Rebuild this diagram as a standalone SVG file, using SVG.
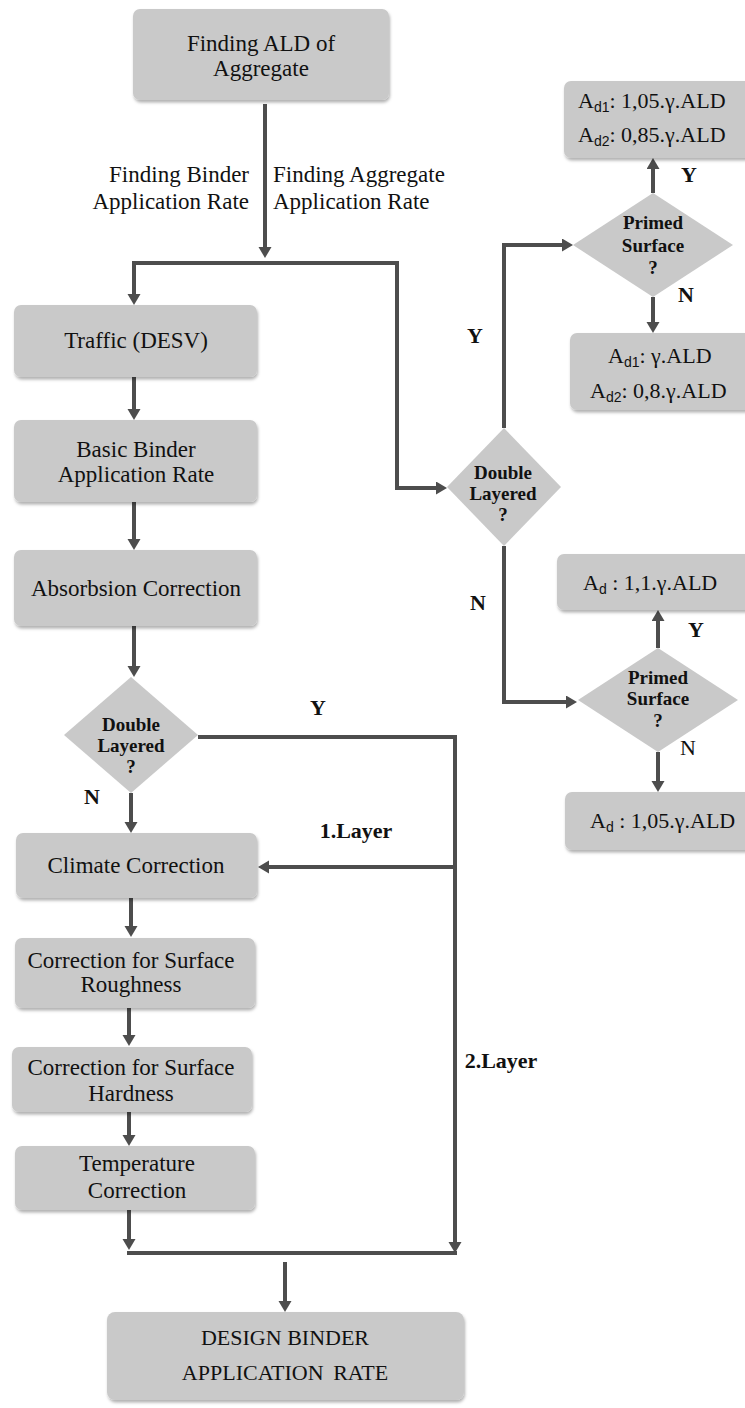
<svg xmlns="http://www.w3.org/2000/svg" width="745" height="1408" viewBox="0 0 745 1408">
<style>
.box{fill:#c9c9c9;filter:url(#sh)}
.dia{fill:#c9c9c9}
.t{font-family:"Liberation Serif","Times New Roman",serif;font-size:23px;fill:#111;text-anchor:middle}
.ts{font-family:"Liberation Serif","Times New Roman",serif;font-size:22px;fill:#111}
.d{font-family:"Liberation Serif","Times New Roman",serif;font-size:19px;font-weight:bold;fill:#111;text-anchor:middle}
.l{font-family:"Liberation Serif","Times New Roman",serif;font-size:22px;font-weight:bold;fill:#111;text-anchor:middle}
.sub{font-family:"Liberation Sans",Arial,sans-serif;font-size:14px}
.c{fill:none;stroke:#4d4d4d;stroke-width:4}
.ca{fill:none;stroke:#4d4d4d;stroke-width:4;marker-end:url(#ah)}
</style>
<defs>
<filter id="sh" x="-10%" y="-10%" width="120%" height="130%">
<feDropShadow dx="1" dy="2.5" stdDeviation="1.5" flood-color="#000" flood-opacity="0.3"/>
</filter>
<marker id="ah" markerUnits="userSpaceOnUse" markerWidth="12" markerHeight="14" refX="7" refY="6.5" orient="auto">
<path d="M0,0 L11,6.5 L0,13 z" fill="#4d4d4d"/>
</marker>
</defs>
<rect width="745" height="1408" fill="#fff"/>

<g id="connectors">
<path class="ca" d="M265,104 V254"/>
<path class="ca" d="M265,263 H134 V301"/>
<path class="ca" d="M265,263 H397 V488 H443"/>
<path class="ca" d="M134,377 V416"/>
<path class="ca" d="M134,502 V546"/>
<path class="ca" d="M134,626 V673"/>
<path class="ca" d="M131,793 V829"/>
<path class="c" d="M198,737 H455 V1244"/>
<path class="ca" d="M455,1240 V1249"/>
<path class="ca" d="M455,867 H262"/>
<path class="ca" d="M131,898 V933"/>
<path class="ca" d="M129,1008 V1042"/>
<path class="ca" d="M129,1112 V1142"/>
<path class="ca" d="M129,1210 V1246"/>
<path class="c" d="M127,1253 H457"/>
<path class="ca" d="M285,1262 V1308"/>
<path class="ca" d="M504,428 V245 H569"/>
<path class="ca" d="M653,193 V162"/>
<path class="ca" d="M653,297 V329"/>
<path class="ca" d="M504,546 V702 H573"/>
<path class="ca" d="M658,648 V614"/>
<path class="ca" d="M658,752 V788"/>
</g>

<g id="n_ald">
<rect class="box" x="133" y="9" width="256" height="91" rx="7"/>
<text class="t" x="261" y="51">Finding ALD of</text>
<text class="t" x="261" y="76">Aggregate</text>
</g>

<g id="lbl_binder">
<text class="t" x="249" y="182" style="text-anchor:end">Finding Binder</text>
<text class="t" x="249" y="209" style="text-anchor:end">Application Rate</text>
</g>
<g id="lbl_aggregate">
<text class="t" x="273" y="182" style="text-anchor:start">Finding Aggregate</text>
<text class="t" x="273" y="209" style="text-anchor:start">Application Rate</text>
</g>

<g id="n_traffic">
<rect class="box" x="14" y="305" width="243" height="72" rx="7"/>
<text class="t" x="136" y="348">Traffic (DESV)</text>
</g>

<g id="n_basic">
<rect class="box" x="14" y="420" width="243" height="82" rx="7"/>
<text class="t" x="136" y="457">Basic Binder</text>
<text class="t" x="136" y="482">Application Rate</text>
</g>

<g id="n_absorb">
<rect class="box" x="14" y="550" width="243" height="76" rx="7"/>
<text class="t" x="136" y="596">Absorbsion Correction</text>
</g>

<g id="n_double1">
<polygon class="dia" points="131,677 198,735 131,793 64,735"/>
<text class="d" x="131" y="731">Double</text>
<text class="d" x="131" y="752">Layered</text>
<text class="d" x="131" y="773">?</text>
</g>
<text class="l" x="318" y="715">Y</text>
<text class="l" x="92" y="804">N</text>
<text class="l" x="356" y="838">1.Layer</text>
<text class="l" x="501" y="1068">2.Layer</text>

<g id="n_climate">
<rect class="box" x="16" y="833" width="241" height="65" rx="7"/>
<text class="t" x="136" y="873">Climate Correction</text>
</g>

<g id="n_rough">
<rect class="box" x="15" y="938" width="240" height="70" rx="7"/>
<text class="t" x="131" y="968">Correction for Surface</text>
<text class="t" x="131" y="992">Roughness</text>
</g>

<g id="n_hard">
<rect class="box" x="12" y="1047" width="240" height="65" rx="7"/>
<text class="t" x="131" y="1075">Correction for Surface</text>
<text class="t" x="131" y="1101">Hardness</text>
</g>

<g id="n_temp">
<rect class="box" x="15" y="1146" width="240" height="64" rx="7"/>
<text class="t" x="137" y="1171">Temperature</text>
<text class="t" x="137" y="1198">Correction</text>
</g>

<g id="n_design">
<rect class="box" x="107" y="1312" width="357" height="88" rx="8"/>
<text class="t" x="285" y="1345" style="font-size:22px">DESIGN BINDER</text>
<text class="t" x="285" y="1380" style="font-size:22px;word-spacing:4px">APPLICATION RATE</text>
</g>

<g id="n_double2">
<polygon class="dia" points="504,428 561,487 504,546 447,487"/>
<text class="d" x="503" y="479">Double</text>
<text class="d" x="503" y="500">Layered</text>
<text class="d" x="503" y="521">?</text>
</g>
<text class="l" x="475" y="343">Y</text>
<text class="l" x="478" y="610">N</text>

<g id="n_primed1">
<polygon class="dia" points="653,193 733,245 653,297 573,245"/>
<text class="d" x="653" y="229">Primed</text>
<text class="d" x="653" y="252">Surface</text>
<text class="d" x="653" y="274">?</text>
</g>
<text class="l" x="689" y="182">Y</text>
<text class="l" x="686" y="302">N</text>

<g id="n_res1">
<rect class="box" x="564" y="81" width="200" height="77" rx="7"/>
<text class="ts" x="578" y="108">A<tspan class="sub" dy="4">d1</tspan><tspan dy="-4">: 1,05.γ.ALD</tspan></text>
<text class="ts" x="578" y="142">A<tspan class="sub" dy="4">d2</tspan><tspan dy="-4">: 0,85.γ.ALD</tspan></text>
</g>

<g id="n_res2">
<rect class="box" x="570" y="333" width="200" height="77" rx="7"/>
<text class="ts" x="608" y="363">A<tspan class="sub" dy="4">d1</tspan><tspan dy="-4">: γ.ALD</tspan></text>
<text class="ts" x="590" y="398">A<tspan class="sub" dy="4">d2</tspan><tspan dy="-4">: 0,8.γ.ALD</tspan></text>
</g>

<g id="n_primed2">
<polygon class="dia" points="658,648 738,700 658,752 578,700"/>
<text class="d" x="658" y="684">Primed</text>
<text class="d" x="658" y="705">Surface</text>
<text class="d" x="658" y="727">?</text>
</g>
<text class="l" x="696" y="637">Y</text>
<text class="t" x="688" y="755" style="font-size:22px">N</text>

<g id="n_res3">
<rect class="box" x="557" y="554" width="200" height="56" rx="7"/>
<text class="ts" x="583" y="590">A<tspan class="sub" dy="4">d</tspan><tspan dy="-4"> : 1,1.γ.ALD</tspan></text>
</g>

<g id="n_res4">
<rect class="box" x="565" y="792" width="200" height="58" rx="7"/>
<text class="ts" x="590" y="828">A<tspan class="sub" dy="4">d</tspan><tspan dy="-4"> : 1,05.γ.ALD</tspan></text>
</g>
</svg>
